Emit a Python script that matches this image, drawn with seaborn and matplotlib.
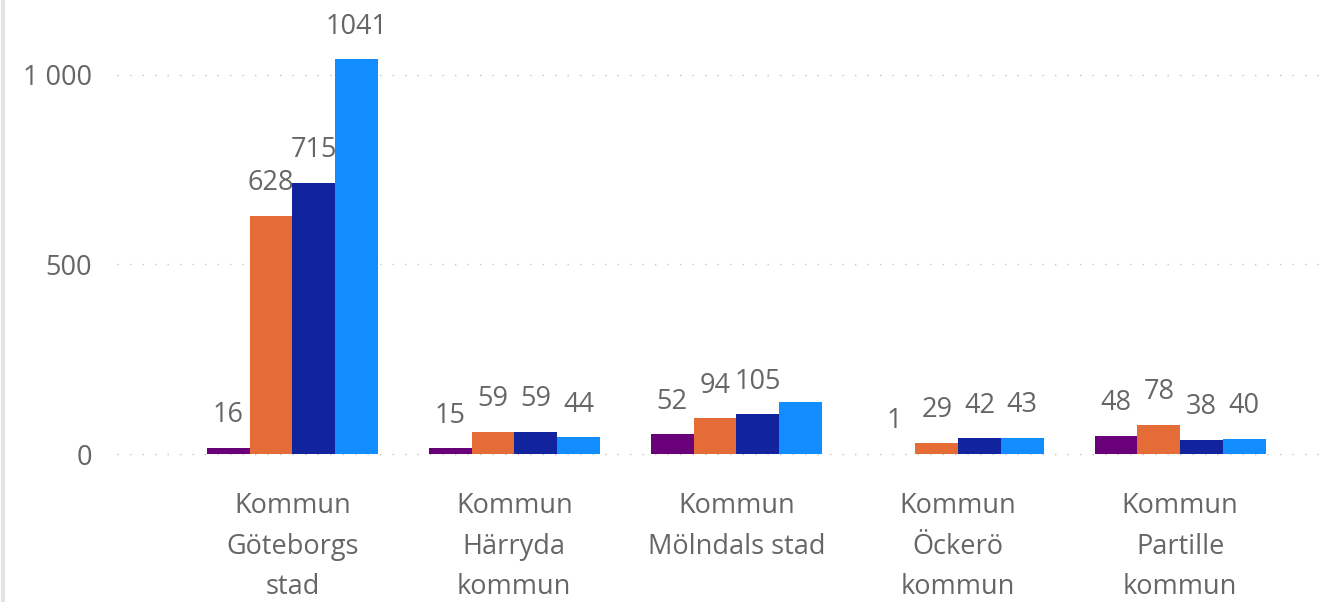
import matplotlib
matplotlib.use("Agg")
import matplotlib.pyplot as plt
from matplotlib.lines import Line2D
import seaborn as sns
import pandas as pd

# ---- data ----
categories = ["Kommun Göteborgs stad", "Kommun Härryda kommun", "Kommun Mölndals stad",
              "Kommun Öckerö kommun", "Kommun Partille kommun"]
tick_labels = ["Kommun\nGöteborgs\nstad", "Kommun\nHärryda\nkommun", "Kommun\nMölndals stad",
               "Kommun\nÖckerö\nkommun", "Kommun\nPartille\nkommun"]
series = ["Serie 1", "Serie 2", "Serie 3", "Serie 4"]
serie_1 = [16, 15, 52, 1, 48]
serie_2 = [628, 59, 94, 29, 78]
serie_3 = [715, 59, 105, 42, 38]
serie_4 = [1041, 44, 138, 43, 40]
# labels shown (the Mölndal label of series 4 is hidden in the reference)
shown_4 = [True, True, False, True, True]
y_ticks = [0, 500, 1000]
y_tick_labels = ["0", "500", "1 000"]
colors = ["#6B007B", "#E66C37", "#12239E", "#118DFF"]

values = [serie_1, serie_2, serie_3, serie_4]
rows = []
for s, vals in zip(series, values):
    for c, v in zip(categories, vals):
        rows.append({"Kommun": c, "Serie": s, "Antal": v})
df = pd.DataFrame(rows)

sns.set_theme(style="white")
plt.rcParams["font.family"] = ["Open Sans", "DejaVu Sans"]
text_color = "#666666"
fs = 19.5

fig = plt.figure(figsize=(13.42, 6.02), dpi=100)
ax = fig.add_axes([117 / 1342, 1 - 456 / 602, (1320 - 117) / 1342, (456 - 18) / 602])

sns.barplot(data=df, x="Kommun", y="Antal", hue="Serie", order=categories,
            hue_order=series, palette=colors, width=0.77, gap=0, saturation=1,
            linewidth=0, edgecolor="none", legend=False, ax=ax)

ax.set_ylim(-5, 1150)
ax.set_xlim(-0.79, 4.63)

for container, vals, s in zip(ax.containers, values, series):
    for i, (bar, v) in enumerate(zip(container, vals)):
        if s == "Serie 4" and not shown_4[i]:
            continue
        ax.annotate(f"{v}", (bar.get_x() + bar.get_width() / 2, bar.get_height()),
                    xytext=(0, 23.5), textcoords="offset points", ha="center", va="center",
                    fontsize=fs, color=text_color, annotation_clip=False)

ax.set_yticks(y_ticks)
ax.set_yticklabels(y_tick_labels)
ax.set_xticks(range(len(categories)))
ax.set_xticklabels(tick_labels, linespacing=1.6)
ax.tick_params(axis="y", length=0, pad=18, labelsize=fs, labelcolor=text_color)
ax.tick_params(axis="x", length=0, pad=26, labelsize=fs, labelcolor=text_color)
ax.set_xlabel("")
ax.set_ylabel("")

ax.grid(axis="y", color="#C8C6C4", linewidth=1.0, linestyle=(0, (1, 8)))
ax.grid(axis="x", visible=False)
ax.set_axisbelow(True)
for sp in ax.spines.values():
    sp.set_visible(False)

fig.add_artist(Line2D([0.0025, 0.0025], [0, 1], transform=fig.transFigure,
                      color="#E3E3E3", linewidth=3))

fig.savefig("out.png", dpi=100, facecolor="white")
